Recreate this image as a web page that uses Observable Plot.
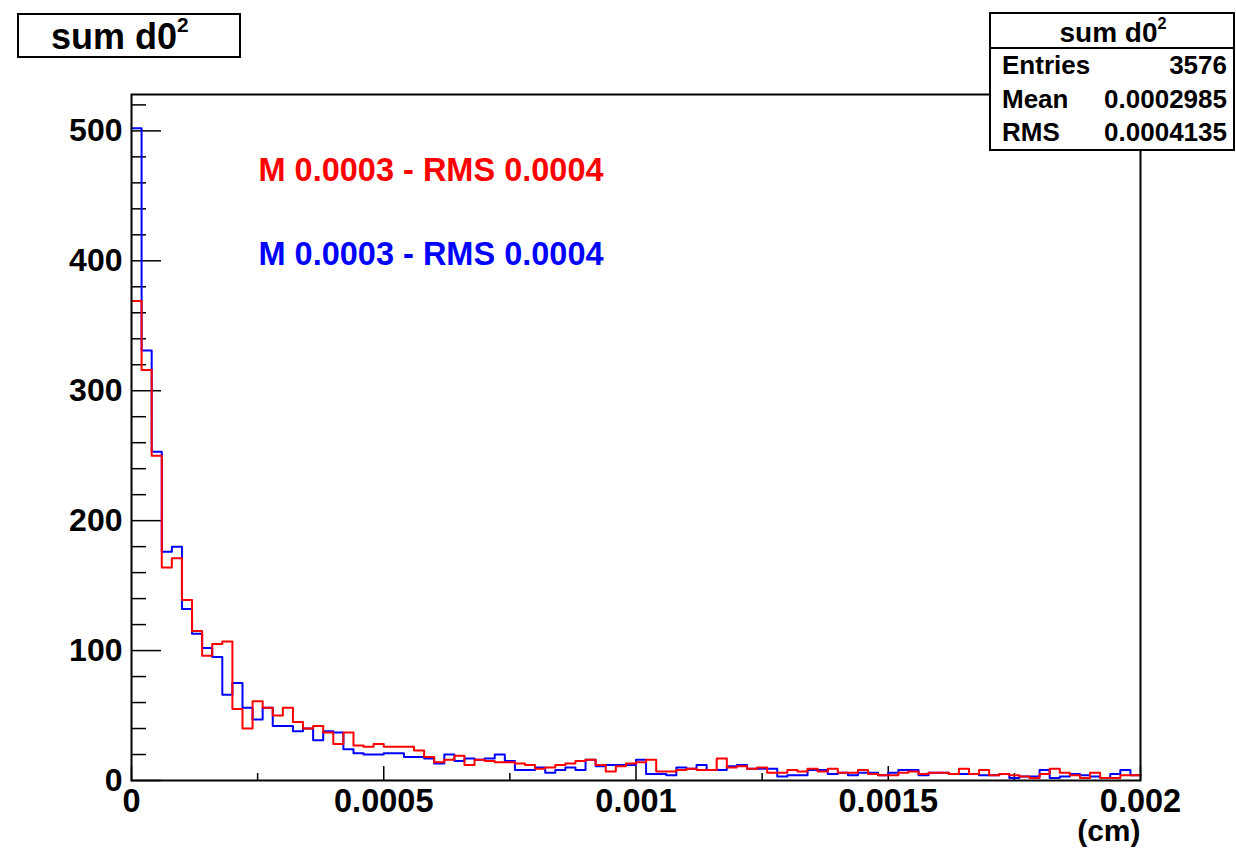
<!DOCTYPE html>
<html>
<head>
<meta charset="utf-8">
<script src="https://cdn.jsdelivr.net/npm/d3@7"></script>
<script src="https://cdn.jsdelivr.net/npm/@observablehq/plot@0.6"></script>
<style>
  body { margin: 0; background: #fff; }
  #page { position: relative; width: 1236px; height: 850px; overflow: hidden;
          font-family: "Liberation Sans", Arial, Helvetica, sans-serif; font-weight: bold; color: #000; }
  .box { position: absolute; background: #fff; border: 2px solid #000; box-sizing: border-box; }
  #title { left: 17px; top: 13px; width: 224px; height: 45px; font-size: 36px; line-height: 44px;
           padding-left: 32px; white-space: nowrap; }
  sup { font-size: 0.58em; line-height: 0; vertical-align: 0.8em; }
  #stats { left: 989px; top: 12px; width: 246px; height: 139px; font-size: 26px; }
  #stats .head { height: 33px; border-bottom: 2px solid #000; text-align: center; line-height: 38px; font-size: 28px; padding-left: 2px; }
  #stats .row { display: flex; justify-content: space-between; padding: 0 6px 0 11px; height: 33.5px; line-height: 33.5px; }
</style>
</head>
<body>
<div id="page">
  <div id="chart"></div>
  <div class="box" id="title"></div>
  <div class="box" id="stats"></div>
</div>
<script>
// Histogram binning: 100 bins over [0, 0.002] cm
const xMin = 0, xMax = 0.002, nBins = 100;

// Bin contents, sum d0^2 (blue sample)
const blueCounts = [
  502, 331, 253, 176, 180, 132, 113, 102, 95, 66,
  75, 56, 47, 56, 42, 42, 38, 40, 31, 38,
  37, 24, 21, 20, 20, 21, 21, 18, 18, 17,
  13, 20, 15, 17, 16, 17, 20, 15, 8, 8,
  10, 6, 8, 10, 8, 16, 11, 12, 12, 12,
  16, 5, 5, 4, 10, 9, 12, 8, 8, 11,
  12, 9, 9, 9, 3, 4, 4, 8, 8, 5,
  6, 4, 6, 6, 4, 6, 8, 8, 4, 6,
  6, 5, 5, 5, 4, 4, 5, 2, 3, 3,
  8, 2, 3, 5, 4, 3, 2, 5, 8, 4
];

// Bin contents, sum d0^2 (red sample)
const redCounts = [
  369, 316, 250, 164, 171, 139, 115, 96, 105, 107,
  55, 40, 61, 56, 50, 56, 45, 40, 42, 37,
  28, 37, 27, 26, 28, 26, 26, 26, 23, 18,
  14, 16, 19, 12, 16, 15, 14, 14, 13, 12,
  9, 10, 12, 13, 15, 16, 12, 7, 11, 13,
  14, 16, 7, 7, 8, 9, 8, 8, 17, 10,
  11, 9, 10, 6, 6, 8, 7, 9, 7, 9,
  6, 6, 8, 5, 4, 4, 6, 7, 5, 6,
  6, 5, 9, 5, 8, 4, 5, 4, 3, 2,
  5, 9, 6, 4, 2, 6, 2, 2, 4, 4
];

// Axis ticks and labels
const xTicks = [0, 0.0005, 0.001, 0.0015, 0.002];
const xTickLabels = ["0", "0.0005", "0.001", "0.0015", "0.002"];
const xMinorTicks = [0.00025, 0.00075, 0.00125, 0.00175];
const yTicks = [0, 100, 200, 300, 400, 500];
const yTickLabels = ["0", "100", "200", "300", "400", "500"];
const yMinorTicks = [20, 40, 60, 80, 120, 140, 160, 180, 220, 240, 260, 280,
                     320, 340, 360, 380, 420, 440, 460, 480, 520];
const xAxisTitle = "(cm)";

// Per-sample annotations
const redLabel = "M 0.0003 - RMS 0.0004";
const blueLabel = "M 0.0003 - RMS 0.0004";

// Statistics box
const histTitle = "sum d0";
const statNames = ["Entries", "Mean", "RMS"];
const statValues = ["3576", "0.0002985", "0.0004135"];

// Step outline rows: one point per bin low edge, closed at the upper edge
const binWidth = (xMax - xMin) / nBins;
function outline(counts) {
  const rows = counts.map((c, i) => ({x: xMin + i * binWidth, y: c}));
  rows.push({x: xMax, y: counts[counts.length - 1]});
  return rows;
}

const W = 1236, H = 850;
const mL = 131, mR = 96, mT = 94, mB = 70;
const plotW = W - mL - mR, plotH = H - mT - mB;
const font = "Liberation Sans, Arial, Helvetica, sans-serif";
const label = {textAnchor: "start", lineAnchor: "middle", fontSize: 32.5, fontWeight: "bold", frameAnchor: "top-left", dx: 127};

const chart = Plot.plot({
  width: W, height: H,
  marginLeft: mL, marginRight: mR, marginTop: mT, marginBottom: mB,
  x: {domain: [xMin, xMax]},
  y: {domain: [0, 528]},
  style: {fontFamily: font, fontWeight: "bold", color: "#000", background: "#fff", overflow: "visible"},
  marks: [
    // inward tick marks
    Plot.tickY(yMinorTicks, {y: d => d, insetRight: plotW - 15, stroke: "#000", strokeWidth: 1.5}),
    Plot.tickY(yTicks, {y: d => d, insetRight: plotW - 30, stroke: "#000", strokeWidth: 1.5}),
    Plot.tickX(xMinorTicks, {x: d => d, insetTop: plotH - 7, stroke: "#000", strokeWidth: 1.5}),
    Plot.tickX(xTicks, {x: d => d, insetTop: plotH - 14, stroke: "#000", strokeWidth: 1.5}),
    // tick labels
    Plot.axisY({ticks: yTicks, tickSize: 0, tickPadding: 9, label: null,
                tickFormat: d => yTickLabels[yTicks.indexOf(d)],
                fontSize: 32, fontWeight: "bold", fill: "#000"}),
    Plot.axisX({ticks: xTicks, tickSize: 0, tickPadding: 8, label: null,
                tickFormat: d => xTickLabels[xTicks.indexOf(d)],
                fontSize: 32.5, fontWeight: "bold", fill: "#000"}),
    Plot.text([xAxisTitle], {frameAnchor: "bottom-right", dy: 51, textAnchor: "end", lineAnchor: "middle",
                             fontSize: 30, fontWeight: "bold", fill: "#000"}),
    // histograms
    Plot.line(outline(blueCounts), {x: "x", y: "y", curve: "step-after", stroke: "#0000ff", strokeWidth: 2}),
    Plot.line(outline(redCounts), {x: "x", y: "y", curve: "step-after", stroke: "#ff0000", strokeWidth: 2}),
    // sample annotations
    Plot.text([redLabel], {...label, dy: 76, fill: "#ff0000"}),
    Plot.text([blueLabel], {...label, dy: 160, fill: "#0000ff"}),
    Plot.frame({stroke: "#000", strokeWidth: 2})
  ]
});
document.getElementById("chart").appendChild(chart);

document.getElementById("title").innerHTML = `${histTitle}<sup>2</sup>`;
document.getElementById("stats").innerHTML =
  `<div class="head">${histTitle}<sup>2</sup></div>` +
  statNames.map((n, i) => `<div class="row"><span>${n}</span><span>${statValues[i]}</span></div>`).join("");
</script>
</body>
</html>
